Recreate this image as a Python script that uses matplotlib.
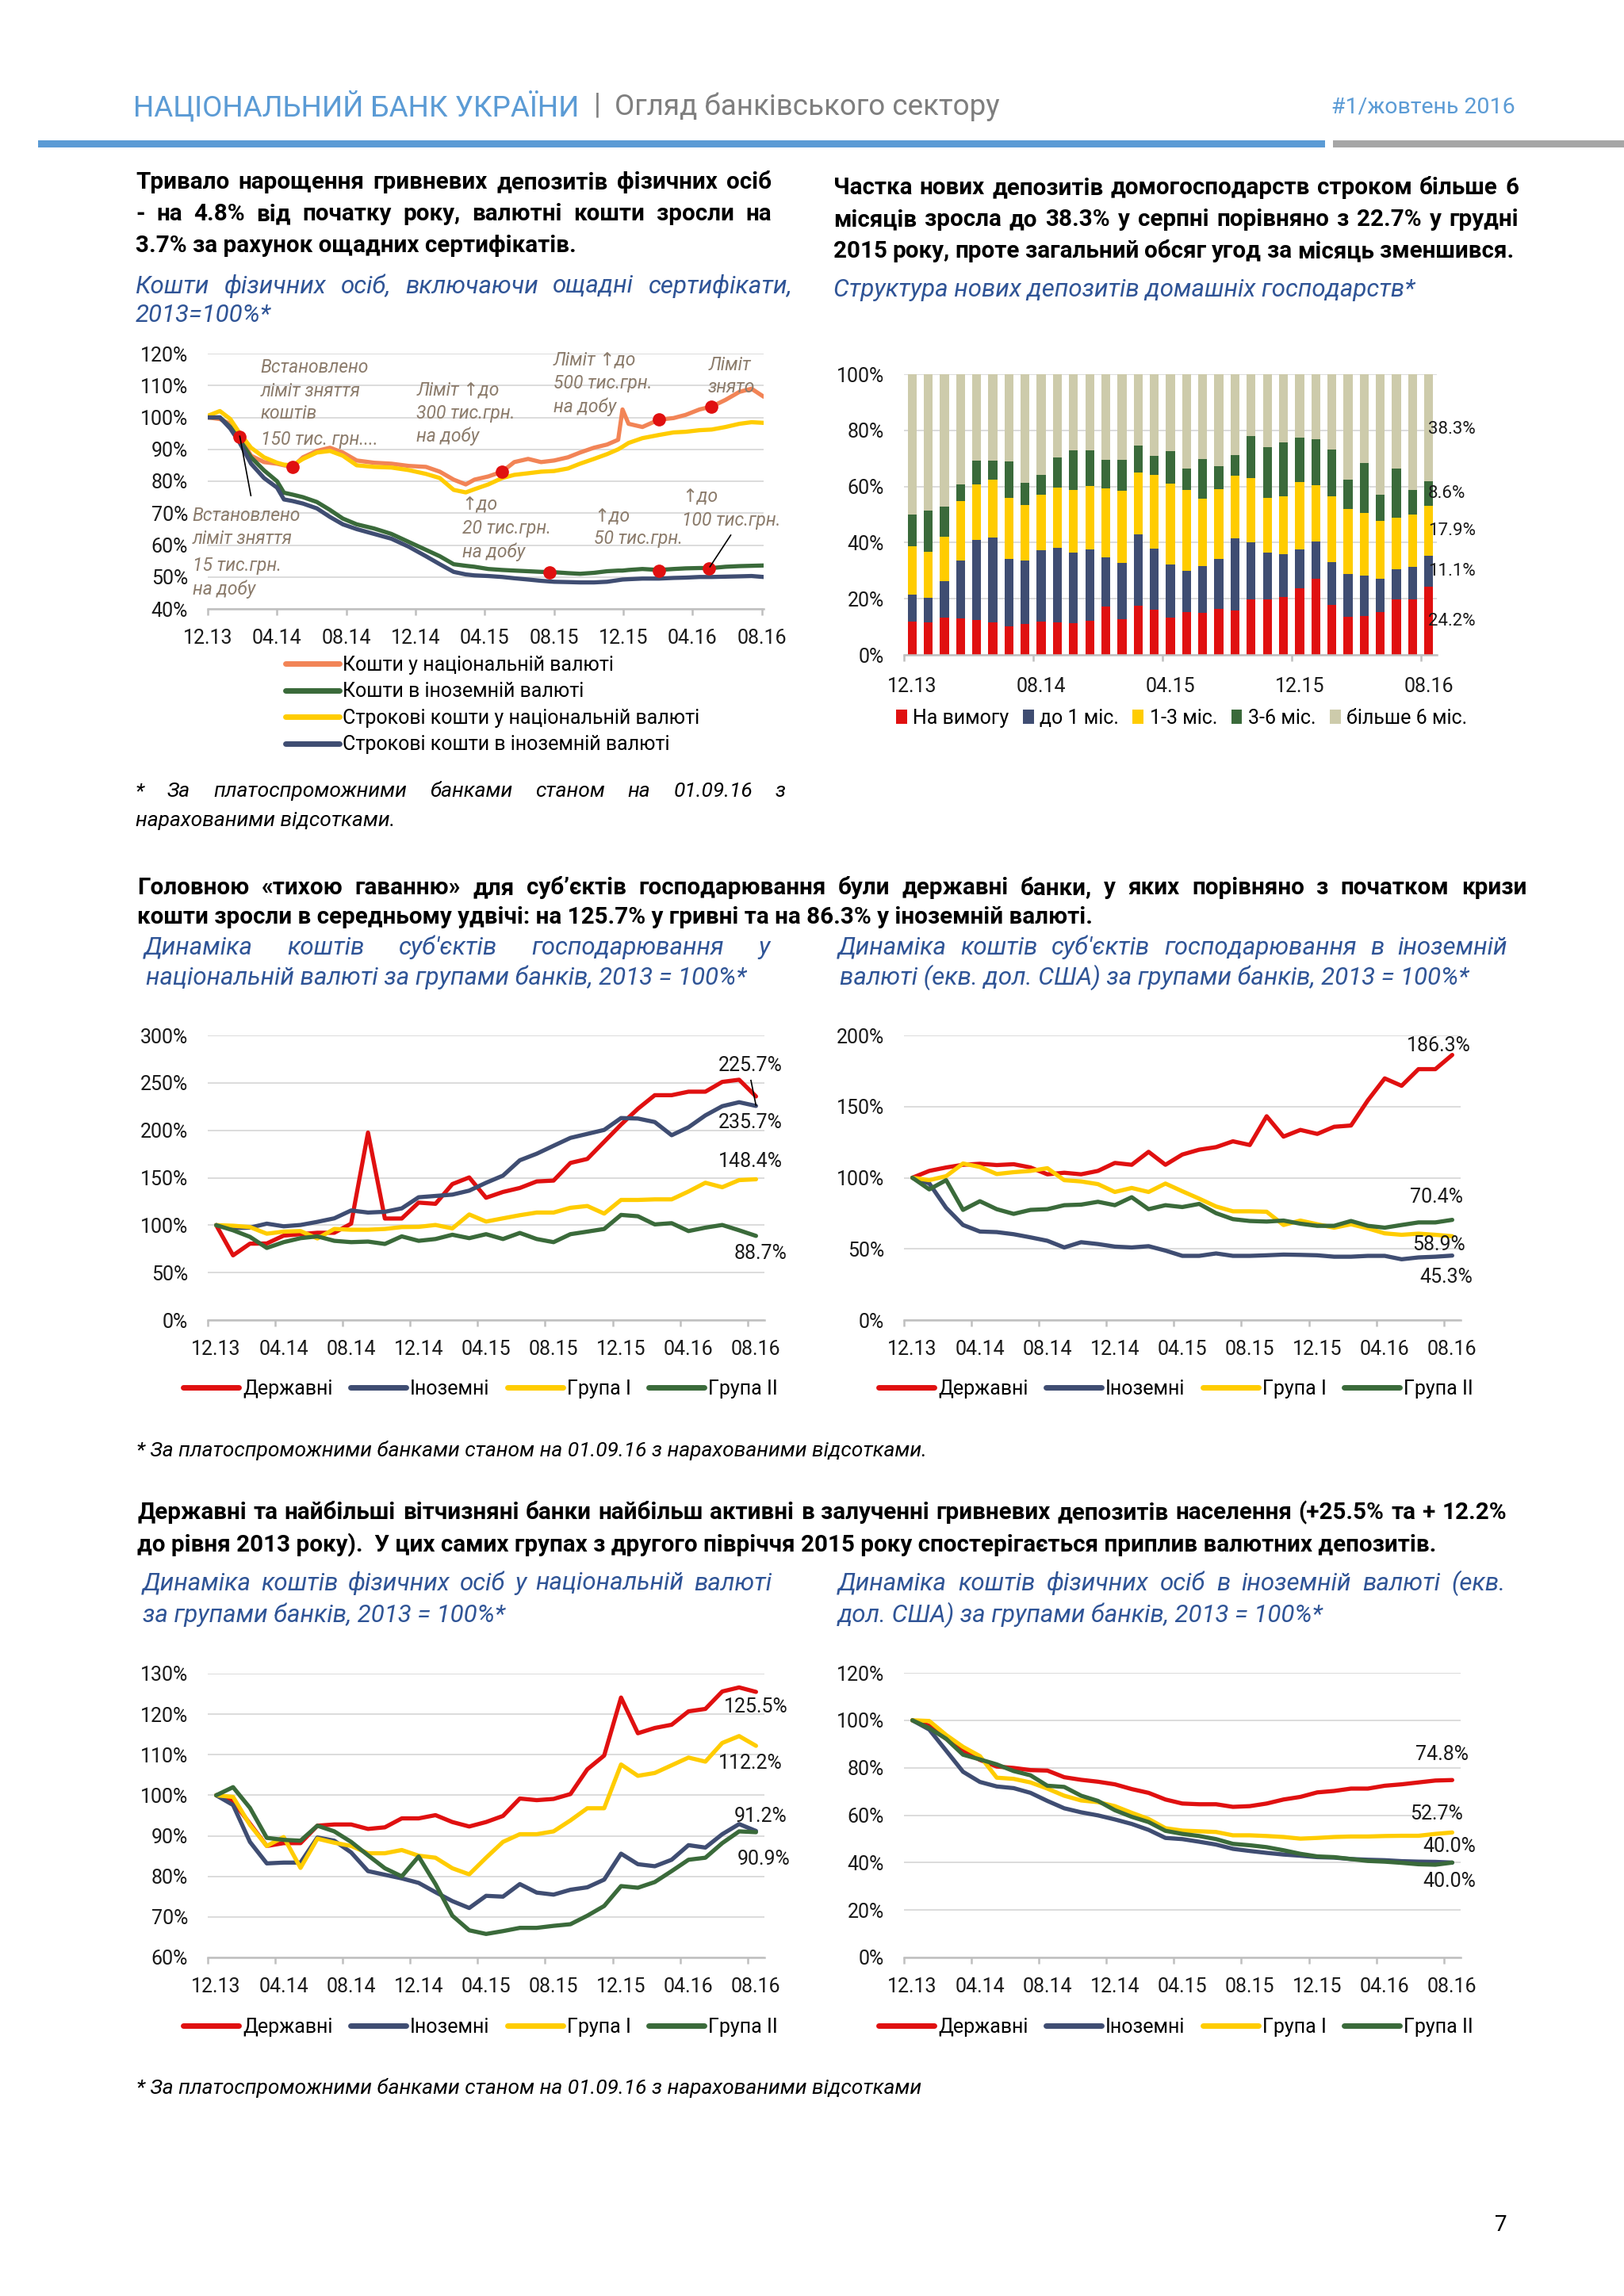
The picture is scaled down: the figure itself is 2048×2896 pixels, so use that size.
import matplotlib
matplotlib.use('Agg')
import matplotlib.pyplot as plt
import numpy as np
from matplotlib.ticker import PercentFormatter
from matplotlib.lines import Line2D
from matplotlib.patches import Rectangle, Patch

plt.rcParams['font.family'] = ['Roboto', 'DejaVu Sans']

# ---------------- DATA ----------------
# Top-left: individuals' funds, 2013 = 100% (months after 12.13)
tl_months = [0, 0.7, 1.3, 1.85, 2.5, 3.25, 4.0, 4.4, 4.9, 5.5, 6.3, 7.06, 7.8, 8.6, 9.6, 10.6,
             11.6, 12.6, 13.4, 14.2, 14.9, 15.4, 16.2, 17.0, 17.7, 18.5, 19.25, 20.0, 20.8, 21.5,
             22.3, 23.06, 23.7, 23.95, 24.3, 25.1, 26.06, 26.9, 27.6, 28.4, 29.1, 29.9, 30.7, 31.4, 32.1]
tl_nat = [100, 99.5, 98, 94, 88, 86, 85.5, 85, 84.5, 87.5, 89.5, 90.5, 89, 86.5, 85.8, 85.5,
          84.8, 84.5, 83, 80.5, 79, 80.5, 81.5, 83, 86, 87, 86, 86.5, 87.5, 89,
          90.5, 91.5, 93, 102.5, 98, 97, 99.3, 99.8, 100.8, 102.5, 103.4, 105.5, 108, 109, 106.5]
tl_fx = [100, 100, 97, 93, 87.5, 83.4, 80, 76.4, 75.8, 75, 73.5, 71, 68.3, 66.5, 65.2, 63.5,
         61, 58.5, 56.5, 54, 53.5, 53.2, 52.5, 52.2, 52, 51.8, 51.6, 51.5, 51.2, 51,
         51.3, 51.8, 52, 52, 52.2, 52.5, 52.2, 52.5, 52.7, 52.8, 52.8, 53.2, 53.4, 53.5, 53.6]
tl_term_nat = [100.5, 102, 99.5, 95, 90.5, 87.5, 85.8, 85.2, 85, 87, 89, 89.5, 88, 85, 84.5, 84.3,
               83.5, 82.3, 81, 77.3, 76.5, 77.5, 79, 81, 82, 82.5, 83, 83.2, 84, 85.5,
               87, 88.5, 90, 90.8, 92, 93.5, 94.5, 95.3, 95.5, 96, 96.2, 97, 98, 98.5, 98.3]
tl_term_fx = [100, 100, 96.5, 92, 85.5, 81, 78, 74.3, 73.8, 73, 71.5, 68.8, 66.5, 65, 63.5, 62,
              59.5, 56.5, 54, 51.6, 50.8, 50.5, 50.3, 50, 49.6, 49.2, 48.8, 48.5, 48.4, 48.3,
              48.3, 48.5, 49, 49.2, 49.3, 49.5, 49.5, 49.7, 49.8, 50, 50, 50.1, 50.2, 50.3, 50]
tl_dot_x = [1.85, 4.9, 17.0, 19.75, 26.06, 26.06, 29.1, 28.95]
tl_dot_y = [94.0, 84.5, 83.1, 51.5, 99.3, 52.0, 103.4, 52.6]
tl_series_labels = ['Кошти у національній валюті', 'Кошти в іноземній валюті',
                    'Строкові кошти у національній валюті', 'Строкові кошти в іноземній валюті']
month_labels = ['12.13', '04.14', '08.14', '12.14', '04.15', '08.15', '12.15', '04.16', '08.16']

# Top-right: structure of new household deposits, %
tr_demand = [11.8, 11.6, 13.2, 13.0, 12.3, 11.5, 10.2, 11.1, 12.0, 11.6, 11.4, 12.1, 17.1, 12.8, 17.5, 16.0, 13.2,
             15.2, 14.9, 16.4, 15.8, 19.9, 19.9, 20.5, 23.8, 27.1, 17.7, 13.7, 13.8, 15.2, 19.8, 19.8, 24.2]
tr_1m = [9.7, 8.7, 13.2, 20.5, 28.8, 30.4, 24.0, 22.5, 25.3, 26.4, 24.9, 25.4, 17.7, 19.9, 25.4, 21.9, 19.1,
         14.8, 16.8, 17.8, 25.7, 20.3, 16.5, 15.3, 13.7, 13.2, 15.4, 15.0, 14.5, 11.9, 10.8, 11.6, 11.1]
tr_1_3m = [17.1, 16.5, 15.6, 21.4, 19.7, 20.4, 21.6, 19.9, 19.7, 21.6, 22.5, 22.6, 24.6, 25.9, 22.1, 26.3, 28.6,
           28.8, 24.0, 24.7, 22.4, 22.8, 19.4, 20.7, 24.0, 20.2, 23.5, 23.3, 22.4, 20.7, 18.2, 18.7, 17.9]
tr_3_6m = [11.4, 14.7, 10.8, 5.9, 8.5, 7.0, 13.2, 7.8, 7.1, 10.7, 14.1, 12.7, 10.1, 11.0, 9.5, 6.8, 11.8,
           7.5, 14.0, 8.4, 7.4, 14.9, 18.3, 19.1, 15.8, 16.4, 16.7, 10.5, 17.7, 9.3, 17.7, 8.6, 8.6]
tr_6m = [50.0, 48.5, 47.2, 39.2, 30.7, 30.7, 31.0, 38.7, 35.9, 29.7, 27.1, 27.2, 30.5, 30.4, 25.5, 29.0, 27.3,
         33.7, 30.3, 32.7, 28.7, 22.1, 25.9, 24.4, 22.7, 23.1, 26.7, 37.5, 31.6, 42.9, 33.5, 41.3, 38.3]
tr_labels = ['На вимогу', 'до 1 міс.', '1-3 міс.', '3-6 міс.', 'більше 6 міс.']
tr_tick_labels = ['12.13', '08.14', '04.15', '12.15', '08.16']
tr_end_labels = ['24.2%', '11.1%', '17.9%', '8.6%', '38.3%']

group_labels = ['Державні', 'Іноземні', 'Група I', 'Група II']

# Middle-left: corporates, national currency
ml_state = [100, 68.2, 80.5, 80.7, 89, 90.5, 92, 92, 101.6, 197.6, 107, 107, 123.8, 122.5, 143.3, 150.3, 128.9,
            135, 139.2, 146.1, 147, 165.6, 169.8, 187.9, 206, 222.7, 237, 237, 240.7, 240.7, 251, 253.3, 235.7]
ml_foreign = [100, 96.9, 97.4, 101.6, 98.8, 100.2, 103.5, 107.2, 115.5, 113.3, 114.1, 117.7, 129.4, 130.8, 132.2,
              136.4, 144.7, 152.2, 168.4, 175.3, 183.7, 192, 196.2, 200.4, 212.9, 212.4, 208.7, 194.8, 203.2,
              215.7, 225.4, 229.6, 225.7]
ml_g1 = [100, 99.4, 98, 91, 93.2, 93.8, 86, 96, 95.2, 95.2, 96, 98, 98.2, 100.2, 96.6, 111.3, 103.8, 107.2,
         110.5, 113.3, 113.3, 118.3, 120.2, 112.2, 126.6, 126.6, 127.2, 127.2, 135.5, 144.7, 140, 147.5, 148.4]
ml_g2 = [100, 94.6, 87.7, 76, 82.1, 86.3, 88.2, 83.5, 82.1, 82.7, 80.2, 88.2, 83.5, 85.4, 89.9, 86.3, 90.5,
         85.4, 91.8, 85.4, 82.1, 90.5, 93.2, 96, 110.8, 109.4, 100.8, 102.1, 93.8, 97.4, 100.2, 94.6, 88.7]
ml_end_labels = ['225.7%', '235.7%', '148.4%', '88.7%']

# Middle-right: corporates, foreign currency
mr_state = [100, 104.8, 107.2, 109.1, 109.8, 108.9, 109.5, 107.2, 102.4, 103.5, 102.4, 104.8, 110.4, 109.1,
            118.2, 109.1, 116.3, 119.7, 121.5, 125.6, 123, 143.2, 128.9, 133.6, 130.8, 135.8, 136.7, 154.4,
            169.8, 164.6, 176.3, 176.3, 186.3]
mr_foreign = [100, 96, 78.8, 66.8, 62.2, 61.8, 60.3, 58.1, 55.7, 51, 54.7, 53.4, 51.6, 51, 51.9, 48.8, 45.1,
              45.1, 46.8, 45.1, 45.1, 45.5, 46, 45.8, 45.5, 44.5, 44.5, 45.1, 45.1, 42.7, 44, 44.5, 45.3]
mr_g1 = [100, 98.3, 101.1, 110, 107.6, 102.6, 103.9, 104.8, 106.7, 98.3, 97.4, 95.5, 90, 92.8, 90, 95.9, 90.5,
         85.3, 79.8, 76.4, 76.4, 76.1, 66.8, 69.9, 67.3, 64.9, 67.3, 64.4, 60.9, 59.9, 60.7, 59.9, 58.9]
mr_g2 = [100, 91.8, 98.3, 77.4, 83.5, 77.9, 74.6, 77.4, 77.9, 80.7, 81.1, 83.1, 80.7, 86.3, 77.9, 80.7, 79.4,
         81.6, 75.1, 70.9, 69.6, 69.2, 69.9, 67.7, 66.2, 66.2, 69.6, 66.2, 64.9, 66.8, 68.6, 68.6, 70.4]
mr_end_labels = ['186.3%', '70.4%', '58.9%', '45.3%']

# Bottom-left: individuals, national currency
bl_state = [100, 98.5, 93, 87.5, 88.2, 88.2, 92.5, 92.8, 92.8, 91.7, 92.1, 94.3, 94.3, 95.1, 93.4, 92.3, 93.4,
            94.9, 99.2, 98.8, 99.1, 100.3, 106.4, 109.8, 124.1, 115.3, 116.6, 117.4, 120.7, 121.3, 125.6,
            126.6, 125.5]
bl_foreign = [100, 97.6, 88.5, 83.2, 83.4, 83.4, 89.6, 88.8, 85.9, 81.3, 80.4, 79.5, 78.4, 76.1, 73.9, 72.2,
              75.2, 75, 78.1, 76, 75.5, 76.7, 77.3, 79.2, 85.6, 83, 82.5, 84.1, 87.7, 87.1, 90.4, 92.9, 91.2]
bl_g1 = [100, 99.6, 92.7, 87.5, 89.7, 82.1, 89.3, 88.3, 87.5, 85.7, 85.7, 86.5, 85.1, 84.6, 82, 80.5, 84.6,
         88.5, 90.4, 90.4, 91.1, 93.8, 96.8, 96.8, 107.6, 104.8, 105.5, 107.4, 109.3, 108.3, 112.9, 114.6, 112.2]
bl_g2 = [100, 102, 96.9, 89.5, 89, 88.8, 92.5, 91.1, 88.5, 85.2, 82, 80, 84.9, 78.1, 70.3, 66.7, 65.8, 66.5,
         67.3, 67.3, 67.8, 68.2, 70.3, 72.7, 77.6, 77.2, 78.6, 81.3, 84.1, 84.6, 88.2, 91.1, 90.9]
bl_end_labels = ['125.5%', '112.2%', '91.2%', '90.9%']

# Bottom-right: individuals, foreign currency
br_state = [100, 97.7, 92.2, 87.2, 83.3, 80.5, 79.9, 79, 78.8, 76, 74.9, 74.1, 73, 71, 69.4, 66.6, 64.9, 64.6,
            64.6, 63.5, 63.8, 64.9, 66.6, 67.7, 69.6, 70.2, 71.2, 71.2, 72.4, 73, 73.8, 74.6, 74.8]
br_foreign = [100, 96.1, 87.2, 78.3, 74, 72.1, 71.4, 69.4, 66, 62.9, 61.2, 59.9, 58.2, 56.3, 53.8, 50.4, 49.9,
              48.8, 47.6, 45.8, 44.9, 44.1, 43.4, 42.9, 42.3, 42.1, 41.5, 41.2, 41, 40.6, 40.4, 40.3, 40.0]
br_g1 = [100, 99.7, 93.8, 88.8, 84.9, 75.8, 75.3, 73.8, 71.2, 68.2, 66.2, 65.5, 63.8, 61, 58.4, 54.5, 53.5,
         53.2, 52.9, 51.5, 51.5, 51.2, 50.8, 50.1, 50.4, 50.8, 51, 51, 51.2, 51.3, 51.3, 52.1, 52.7]
br_g2 = [100, 96.7, 92.2, 85.5, 83.5, 81.4, 78.6, 76.8, 72.4, 71.9, 68.2, 66, 62.1, 59.3, 57.1, 53.4, 52.1,
         51.2, 49.9, 47.9, 47.3, 46.5, 45.2, 43.7, 42.6, 42.3, 41.5, 40.7, 40.4, 39.9, 39.3, 39.1, 40.0]
br_end_labels = ['74.8%', '52.7%', '40.0%', '40.0%']

# ---------------- STYLE ----------------
RED = '#e01010'
NAVY = '#3f4d72'
YELLOW = '#ffcc00'
GREEN = '#3a6a3a'
BEIGE = '#cdcbab'
ORANGE = '#f28456'
HBLUE = '#5b9bd5'
SUBBLUE = '#2f5496'
ANNOT = '#8b7b6b'
GRID = '#d9d9d9'
AXC = '#bfbfbf'
TXT = '#1a1a1a'
GROUP_COLORS = [RED, NAVY, YELLOW, GREEN]
TICK_FS = 18
LEG_FS = 18
LAB_FS = 18

W, H = 2048, 2896
fig = plt.figure(figsize=(W / 100, H / 100), dpi=100)
fig.patch.set_facecolor('white')
renderer = fig.canvas.get_renderer()


def fx(x):
    return x / W


def fy(y):
    return 1 - y / H


def add_ax(x0, y0, x1, y1):
    return fig.add_axes([fx(x0), fy(y1), (x1 - x0) / W, (y1 - y0) / H])


def text_px(x, y, s, **kw):
    kw.setdefault('va', 'center')
    return fig.text(fx(x), fy(y), s, **kw)


def justify(line, x0, x1, y, **kw):
    words = [w for w in line.split(' ') if w]
    ts = [fig.text(0, fy(y), w, ha='left', va='center', **kw) for w in words]
    ws = [t.get_window_extent(renderer).width for t in ts]
    if len(ts) == 1:
        ts[0].set_x(fx(x0))
        return
    gap = (x1 - x0 - sum(ws)) / (len(ts) - 1)
    gap = max(gap, 5)
    x = x0
    for t, w in zip(ts, ws):
        t.set_x(fx(x))
        x += w + gap


def style_ax(ax, ylim, ystep):
    ax.set_ylim(*ylim)
    ax.set_yticks(np.arange(ylim[0], ylim[1] + 0.01, ystep))
    ax.yaxis.set_major_formatter(PercentFormatter(decimals=0))
    for s in ['left', 'top', 'right']:
        ax.spines[s].set_visible(False)
    ax.spines['bottom'].set_color(AXC)
    ax.spines['bottom'].set_linewidth(1.8)
    ax.yaxis.grid(True, color=GRID, lw=1.3)
    ax.set_axisbelow(True)
    ax.tick_params(axis='y', length=0, pad=18, labelsize=TICK_FS, labelcolor=TXT)
    ax.set_facecolor('none')


def category_xaxis(ax, step_lab, labels, pad):
    ax.set_xlim(-0.5, 32.5)
    ax.set_xticks(np.arange(0, 33, step_lab))
    ax.set_xticklabels(labels)
    ax.set_xticks(np.arange(-0.5, 32, step_lab), minor=True)
    ax.tick_params(axis='x', which='major', length=0, pad=pad, labelsize=TICK_FS, labelcolor=TXT)
    ax.tick_params(axis='x', which='minor', length=6, width=1.8, color=AXC)


# ---------------- HEADER ----------------
t1 = text_px(168, 135, 'НАЦІОНАЛЬНИЙ БАНК УКРАЇНИ', color=HBLUE, fontsize=26.5)
bb = t1.get_window_extent(renderer)
sep = text_px(bb.x1 + 18, 133, '|', color='#7f7f7f', fontsize=26)
bb2 = sep.get_window_extent(renderer)
text_px(bb2.x1 + 18, 135, 'Огляд банківського сектору', color='#7f7f7f', fontsize=26.5)
text_px(1911, 135, '#1/жовтень 2016', color=HBLUE, fontsize=20.5, ha='right')
fig.add_artist(Rectangle((fx(48), fy(186)), (1671 - 48) / W, 9 / H, transform=fig.transFigure,
                         color=HBLUE, lw=0))
fig.add_artist(Rectangle((fx(1681), fy(186)), (2048 - 1681) / W, 9 / H, transform=fig.transFigure,
                         color='#a6a6a6', lw=0))

# ---------------- TOP TEXTS ----------------
bold = dict(fontsize=21.3, fontweight='bold', color='black')
justify('Тривало нарощення гривневих депозитів фізичних осіб', 171, 973, 230, **bold)
justify('- на 4.8% від початку року, валютні кошти зросли на', 171, 973, 270, **bold)
text_px(171, 310, '3.7% за рахунок ощадних сертифікатів.', **bold)
sub = dict(fontsize=22.5, fontstyle='italic', color=SUBBLUE)
justify('Кошти фізичних осіб, включаючи ощадні сертифікати,', 171, 999, 361, **sub)
text_px(171, 398, '2013=100%*', **sub)

justify('Частка нових депозитів домогосподарств строком більше 6', 1051, 1915, 237, **bold)
justify('місяців зросла до 38.3% у серпні порівняно з 22.7% у грудні', 1051, 1915, 277, **bold)
justify('2015 року, проте загальний обсяг угод за місяць зменшився.', 1051, 1909, 317, **bold)
text_px(1051, 365, 'Структура нових депозитів домашніх господарств*', **sub)

# ---------------- TOP-LEFT CHART ----------------
ax = add_ax(262, 446, 963, 768)
style_ax(ax, (40, 120), 10)
ax.set_xlim(0, 32.1)
ax.set_xticks(np.arange(0, 33, 4))
ax.set_xticklabels(month_labels)
ax.tick_params(axis='x', length=6, width=1.8, color=AXC, pad=12, labelsize=TICK_FS, labelcolor=TXT)
for ys, c in zip([tl_nat, tl_fx, tl_term_nat, tl_term_fx], [ORANGE, GREEN, YELLOW, NAVY]):
    ax.plot(tl_months, ys, color=c, lw=3.8, solid_joinstyle='round', solid_capstyle='round')
ax.plot(tl_dot_x, tl_dot_y, 'o', color=RED, ms=11, mec=RED, zorder=5)
ax.plot([1.85, 2.49], [94.1, 75.5], color='black', lw=1.2, zorder=6)
ax.plot([30.2, 29.0], [63.1, 53.2], color='black', lw=1.2, zorder=6)
annots = [
    (3.05, [115.6, 108.3, 101.2, 93.1], ['Встановлено', 'ліміт зняття', 'коштів', '150 тис. грн....']),
    (12.06, [108.6, 101.2, 94.0], ['Ліміт ↑до', '300 тис.грн.', 'на добу']),
    (19.96, [118.1, 110.7, 103.4], ['Ліміт ↑до', '500 тис.грн.', 'на добу']),
    (28.9, [116.4, 109.4], ['Ліміт', 'знято']),
    (-0.89, [69.2, 61.9, 53.6, 46.2], ['Встановлено', 'ліміт зняття', '15 тис.грн.', 'на добу']),
    (14.68, [72.5, 65.2, 57.9], ['↑до', '20 тис.грн.', 'на добу']),
    (22.3, [68.9, 61.9], ['↑до', '50 тис.грн.']),
    (27.38, [75.1, 67.7], ['↑до', '100 тис.грн.']),
]
for x0, ys, lines in annots:
    for yv, s in zip(ys, lines):
        ax.text(x0, yv, s, fontsize=16.5, fontstyle='italic', color=ANNOT, ha='left', va='center',
                clip_on=False, zorder=7)
handles = [Line2D([], [], color=c, lw=5, solid_capstyle='round') for c in [ORANGE, GREEN, YELLOW, NAVY]]
ax.legend(handles, tl_series_labels, loc='center left', bbox_to_anchor=(fx(360), fy(889)),
          bbox_transform=fig.transFigure, frameon=False, fontsize=LEG_FS, handlelength=2.7,
          handletextpad=0.2, labelspacing=0.38, borderpad=0, borderaxespad=0)

foot = dict(fontsize=19, fontstyle='italic', color='black')
justify('*    За    платоспроможними    банками    станом    на    01.09.16    з', 171, 991, 998, **foot)
text_px(171, 1035, 'нарахованими відсотками.', **foot)

# ---------------- TOP-RIGHT CHART ----------------
ax = add_ax(1140, 472, 1812, 826)
style_ax(ax, (0, 100), 20)
category_xaxis(ax, 8, tr_tick_labels, 20)
xb = np.arange(len(tr_demand))
bottom = np.zeros(len(tr_demand))
segs = [tr_demand, tr_1m, tr_1_3m, tr_3_6m, tr_6m]
seg_colors = [RED, NAVY, YELLOW, GREEN, BEIGE]
for vals, c in zip(segs, seg_colors):
    ax.bar(xb, vals, 0.55, bottom=bottom, color=c, lw=0)
    bottom = bottom + np.array(vals)
cum = np.cumsum([s[-1] for s in segs])
prev = 0
for lab, top in zip(tr_end_labels, cum):
    mid = (prev + top) / 2
    if lab == '38.3%':
        mid = top - 19.6
    ax.text(31.95, mid, lab, fontsize=16, ha='left', va='center', color=TXT, clip_on=False)
    prev = top
handles = [Patch(facecolor=c, edgecolor='none') for c in seg_colors]
ax.legend(handles, tr_labels, loc='center', bbox_to_anchor=(fx(1490), fy(906)),
          bbox_transform=fig.transFigure, ncol=5, frameon=False, fontsize=LEG_FS, handlelength=0.55,
          handleheight=0.75, handletextpad=0.3, columnspacing=0.7, borderpad=0)

# ---------------- MIDDLE TEXTS ----------------
justify('Головною «тихою гаванню» для суб’єктів господарювання були державні банки, у яких порівняно з початком кризи',
        173, 1925, 1120, **bold)
text_px(173, 1157, 'кошти зросли в середньому удвічі: на 125.7% у гривні та на 86.3% у іноземній валюті.', **bold)
justify('Динаміка коштів суб\'єктів господарювання у', 182, 971, 1195, **sub)
text_px(184, 1233, 'національній валюті за групами банків, 2013 = 100%*', **sub)
justify('Динаміка коштів суб\'єктів господарювання в іноземній', 1057, 1901, 1195, **sub)
text_px(1059, 1233, 'валюті (екв. дол. США) за групами банків, 2013 = 100%*', **sub)


def group_chart(box, ylim, ystep, series, end_labels, label_pos, legend_xy):
    ax = add_ax(*box)
    style_ax(ax, ylim, ystep)
    category_xaxis(ax, 4, month_labels, 18)
    xs = np.arange(len(series[0]))
    for ys, c in zip(series, GROUP_COLORS):
        ax.plot(xs, ys, color=c, lw=3.8, solid_joinstyle='round', solid_capstyle='round')
    for lab, (lx, ly) in zip(end_labels, label_pos):
        ax.text(lx, ly, lab, fontsize=LAB_FS, ha='center', va='center', color=TXT, clip_on=False, zorder=6)
    handles = [Line2D([], [], color=c, lw=5, solid_capstyle='round') for c in GROUP_COLORS]
    ax.legend(handles, group_labels, loc='center', bbox_to_anchor=(fx(legend_xy[0]), fy(legend_xy[1])),
              bbox_transform=fig.transFigure, ncol=4, frameon=False, fontsize=LEG_FS, handlelength=2.8,
              handletextpad=0.2, columnspacing=0.9, borderpad=0)
    return ax


ax = group_chart((262, 1306, 964, 1665), (0, 300), 50, [ml_state, ml_foreign, ml_g1, ml_g2], ml_end_labels,
                 [(31.67, 268), (31.67, 208), (31.67, 167.5), (32.27, 70.4)], (606, 1752))
ax.plot([31.7, 32.0], [252.6, 226.3], color='black', lw=1.2, zorder=5)
group_chart((1140, 1306, 1842, 1665), (0, 200), 50, [mr_state, mr_foreign, mr_g1, mr_g2], mr_end_labels,
            [(31.18, 193), (31.05, 86.6), (31.2, 52.9), (31.65, 30.2)], (1483, 1752))

text_px(172, 1830, '* За платоспроможними банками станом на 01.09.16 з нарахованими відсотками.', **foot)

# ---------------- BOTTOM TEXTS ----------------
justify('Державні та найбільші вітчизняні банки найбільш активні в залученні гривневих депозитів населення (+25.5% та + 12.2%',
        173, 1900, 1908, **bold)
text_px(173, 1949, 'до рівня 2013 року).  У цих самих групах з другого півріччя 2015 року спостерігається приплив валютних депозитів.',
        **bold)
justify('Динаміка коштів фізичних осіб у національній валюті', 180, 973, 1997, **sub)
text_px(180, 2037, 'за групами банків, 2013 = 100%*', **sub)
justify('Динаміка коштів фізичних осіб в іноземній валюті (екв.', 1057, 1899, 1997, **sub)
text_px(1057, 2037, 'дол. США) за групами банків, 2013 = 100%*', **sub)

group_chart((262, 2111, 964, 2469), (60, 130), 10, [bl_state, bl_foreign, bl_g1, bl_g2], bl_end_labels,
            [(32.0, 121.8), (31.67, 108.0), (32.27, 94.9), (32.47, 84.3)], (606, 2557))
group_chart((1140, 2110, 1842, 2469), (0, 120), 20, [br_state, br_foreign, br_g1, br_g2], br_end_labels,
            [(31.39, 85.7), (31.05, 60.4), (31.84, 46.8), (31.84, 32.1)], (1483, 2557))

text_px(172, 2634, '* За платоспроможними банками станом на 01.09.16 з нарахованими відсотками', **foot)
text_px(1893, 2806, '7', fontsize=20, color='black', ha='center')

fig.savefig('out.png', dpi=100, facecolor='white')
